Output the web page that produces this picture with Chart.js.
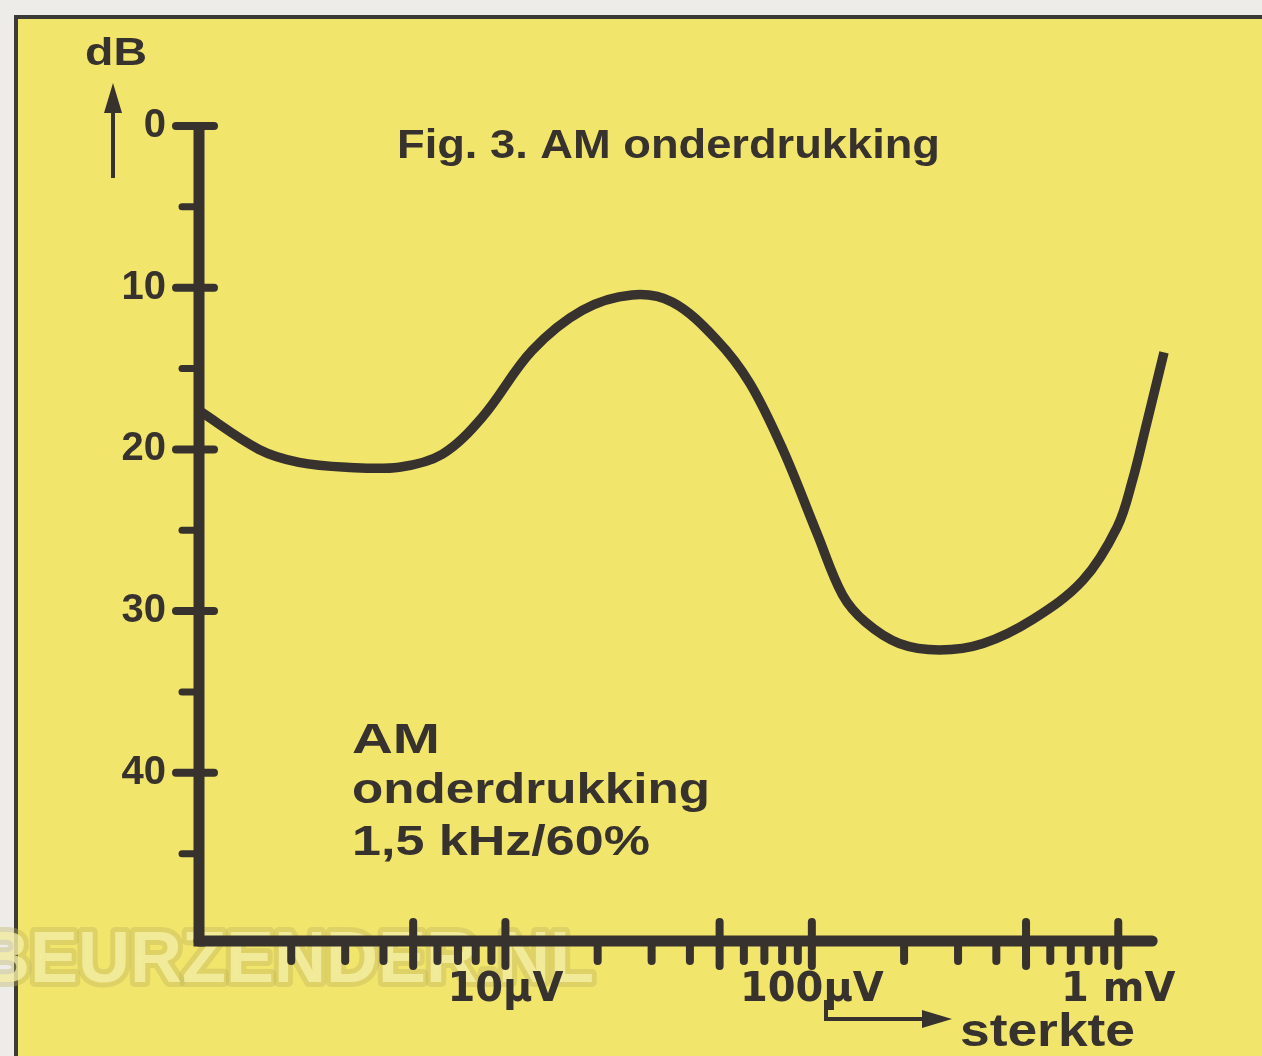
<!DOCTYPE html>
<html><head><meta charset="utf-8">
<script src="https://cdn.jsdelivr.net/npm/chart.js@4.4.1/dist/chart.umd.min.js"></script>
<style>html,body{margin:0;padding:0;background:#edece8;overflow:hidden}canvas{display:block}</style>
</head><body>
<canvas id="c" width="1262" height="1056"></canvas>
<script>
// ---- data ----
const signalUV      = [1.0, 1.57, 2.12, 3.02, 4.5, 6.22, 8.41, 12.2, 17.8, 25.9, 35.1, 48.8, 62.7, 80.4, 104, 126, 150, 193, 261, 362, 527, 766, 992, 1113, 1230, 1410];
const suppressionDB = [17.6, 20.0, 20.8, 21.1, 21.1, 20.3, 18.0, 13.9, 11.4, 10.45, 10.9, 13.2, 15.9, 20.0, 25.2, 29.0, 30.7, 32.0, 32.4, 32.0, 30.5, 28.1, 24.8, 21.9, 18.6, 14.0];
const xLabelValues  = [10, 100, 1000];
const xLabels       = ['10µV', '100µV', '1 mV'];
const xMajorMarks   = [5, 10, 50, 100, 500, 1000];
const xMinorMarks   = [2, 3, 4, 6, 7, 8, 9, 20, 30, 40, 60, 70, 80, 90, 200, 300, 400, 600, 700, 800, 900];
const yLabelValues  = [0, 10, 20, 30, 40];
const yMinorMarks   = [5, 15, 25, 35, 45];
const xMin = 1, xMax = 1410, xAxisEnd = 1290;
const yMin = 0, yMax = 50.4;
const titleText = 'Fig. 3. AM onderdrukking';
const yUnit = 'dB';
const noteLines = ['AM', 'onderdrukking', '1,5 kHz/60%'];
const xAxisTitle = 'sterkte';
const watermark = 'BEURZENDER.NL';

// ---- styling ----
const ink = '#37322d';
const yellow = '#f2e56c';

function drawFit(ctx, text, x, baseline, width, font) {
  ctx.save();
  ctx.font = font;
  const w = ctx.measureText(text).width;
  ctx.translate(x, baseline);
  ctx.scale(width / w, 1);
  ctx.textAlign = 'left';
  ctx.textBaseline = 'alphabetic';
  ctx.fillText(text, 0, 0);
  ctx.restore();
}

const framePlugin = {
  id: 'frame',
  beforeDraw(chart) {
    const ctx = chart.ctx;
    ctx.save();
    ctx.fillStyle = '#edece8';
    ctx.fillRect(0, 0, chart.width, chart.height);
    ctx.fillStyle = yellow;
    ctx.fillRect(16, 17, chart.width, chart.height);
    ctx.strokeStyle = '#3a3a36';
    ctx.lineWidth = 4;
    ctx.beginPath();
    ctx.moveTo(16, chart.height + 5);
    ctx.lineTo(16, 17);
    ctx.lineTo(chart.width + 5, 17);
    ctx.stroke();
    // faint watermark
    ctx.font = 'bold 72px "Liberation Sans"';
    ctx.textBaseline = 'alphabetic';
    ctx.lineJoin = 'round';
    ctx.strokeStyle = 'rgba(190,180,92,0.38)';
    ctx.lineWidth = 10;
    ctx.strokeText(watermark, -22, 982);
    ctx.fillStyle = 'rgba(247,242,170,0.75)';
    ctx.fillText(watermark, -22, 982);
    ctx.restore();
  }
};

const axesPlugin = {
  id: 'axesMarks',
  beforeDatasetsDraw(chart) {
    const {ctx} = chart;
    const x = chart.scales.x, y = chart.scales.y;
    const x0 = x.getPixelForValue(xMin);
    const y0 = y.getPixelForValue(yMax);
    ctx.save();
    ctx.strokeStyle = ink;
    ctx.lineWidth = 11;
    ctx.lineCap = 'butt';
    ctx.beginPath();
    ctx.moveTo(x0, y.getPixelForValue(yMin) - 4);
    ctx.lineTo(x0, y0 + 5.5);
    ctx.stroke();
    ctx.lineCap = 'round';
    ctx.beginPath();
    ctx.moveTo(x0, y0);
    ctx.lineTo(x.getPixelForValue(xAxisEnd), y0);
    ctx.stroke();
    ctx.lineWidth = 8;
    for (const v of yLabelValues) {
      const p = y.getPixelForValue(v);
      ctx.beginPath(); ctx.moveTo(x0 - 23, p); ctx.lineTo(x0 + 15, p); ctx.stroke();
    }
    ctx.lineWidth = 7;
    for (const v of yMinorMarks) {
      const p = y.getPixelForValue(v);
      ctx.beginPath(); ctx.moveTo(x0 - 17, p); ctx.lineTo(x0, p); ctx.stroke();
    }
    ctx.lineWidth = 8;
    for (const v of xMajorMarks) {
      const p = x.getPixelForValue(v);
      ctx.beginPath(); ctx.moveTo(p, y0 - 19); ctx.lineTo(p, y0 + 25); ctx.stroke();
    }
    for (const v of xMinorMarks) {
      const p = x.getPixelForValue(v);
      ctx.beginPath(); ctx.moveTo(p, y0); ctx.lineTo(p, y0 + 20); ctx.stroke();
    }
    ctx.restore();
  }
};

const textPlugin = {
  id: 'texts',
  afterDraw(chart) {
    const ctx = chart.ctx;
    ctx.save();
    ctx.fillStyle = ink;
    ctx.strokeStyle = ink;
    drawFit(ctx, yUnit, 85, 65, 62, 'bold 39px "Liberation Sans"');
    // up arrow
    ctx.lineWidth = 4;
    ctx.beginPath(); ctx.moveTo(113, 178); ctx.lineTo(113, 105); ctx.stroke();
    ctx.beginPath(); ctx.moveTo(113, 83); ctx.lineTo(104, 113); ctx.lineTo(122, 113); ctx.closePath(); ctx.fill();
    drawFit(ctx, titleText, 397, 158, 543, 'bold 41px "Liberation Sans"');
    drawFit(ctx, noteLines[0], 352, 753, 88, 'bold 42px "Liberation Sans"');
    drawFit(ctx, noteLines[1], 352, 803, 358, 'bold 42px "Liberation Sans"');
    drawFit(ctx, noteLines[2], 352, 855, 298, 'bold 42px "Liberation Sans"');
    drawFit(ctx, xAxisTitle, 960, 1046, 175, 'bold 46px "Liberation Sans"');
    // sterkte arrow
    ctx.lineWidth = 4;
    ctx.beginPath(); ctx.moveTo(826, 1000); ctx.lineTo(826, 1019); ctx.lineTo(928, 1019); ctx.stroke();
    ctx.beginPath(); ctx.moveTo(952, 1019); ctx.lineTo(922, 1010); ctx.lineTo(922, 1028); ctx.closePath(); ctx.fill();
    ctx.restore();
  }
};

const ctx = document.getElementById('c').getContext('2d');
new Chart(ctx, {
  type: 'line',
  data: {
    datasets: [{
      data: signalUV.map((v, i) => ({x: v, y: suppressionDB[i]})),
      borderColor: ink,
      borderWidth: 9.5,
      pointRadius: 0,
      tension: 0.35,
      borderCapStyle: 'butt',
      borderJoinStyle: 'round',
      clip: false,
      fill: false
    }]
  },
  options: {
    responsive: false,
    animation: false,
    devicePixelRatio: 1,
    layout: {padding: {left: 0, top: 126, right: 98, bottom: 0}},
    plugins: {legend: {display: false}, tooltip: {enabled: false}, title: {display: false}},
    scales: {
      x: {
        type: 'logarithmic',
        min: xMin, max: xMax, bounds: 'data',
        grid: {display: false, drawTicks: false},
        border: {display: false},
        afterBuildTicks: (axis) => { axis.ticks = xLabelValues.map(v => ({value: v})); },
        afterFit: (axis) => { axis.height = 115; },
        ticks: {
          autoSkip: false, maxRotation: 0, padding: 26,
          color: ink,
          font: {family: 'DejaVu Sans', weight: 'bold', size: 40},
          callback: (v) => { const i = xLabelValues.indexOf(v); return i >= 0 ? xLabels[i] : ''; }
        }
      },
      y: {
        type: 'linear', reverse: true,
        min: yMin, max: yMax, bounds: 'data',
        grid: {display: false, drawTicks: false},
        border: {display: false},
        afterBuildTicks: (axis) => { axis.ticks = yLabelValues.map(v => ({value: v})); },
        afterFit: (axis) => { axis.width = 199; },
        ticks: {
          autoSkip: false, padding: 33,
          color: ink,
          font: {family: 'Liberation Sans', weight: 'bold', size: 40},
          callback: (v) => String(v)
        }
      }
    }
  },
  plugins: [framePlugin, axesPlugin, textPlugin]
});
</script>
</body></html>
